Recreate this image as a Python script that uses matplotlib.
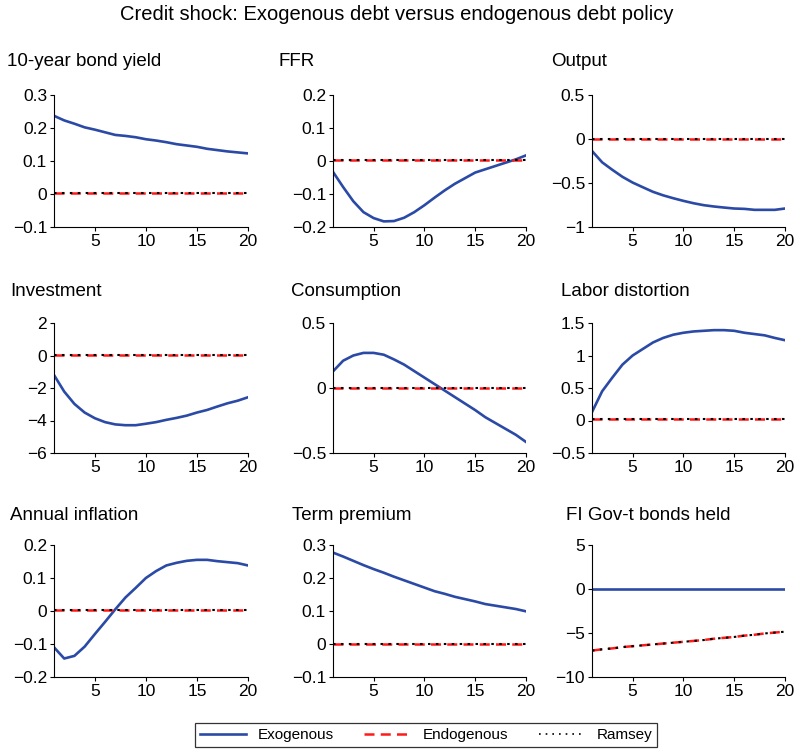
import numpy as np
import matplotlib
matplotlib.use("Agg")
import matplotlib.pyplot as plt
from matplotlib.lines import Line2D

plt.rcParams['font.family'] = ['Liberation Sans', 'DejaVu Sans']

periods = np.arange(1, 21)

# exogenous debt responses
bond_yield = [0.237, 0.223, 0.213, 0.202, 0.195, 0.187, 0.179, 0.176, 0.172, 0.166,
              0.162, 0.157, 0.151, 0.147, 0.143, 0.137, 0.133, 0.129, 0.126, 0.123]
ffr = [-0.033, -0.079, -0.122, -0.155, -0.173, -0.183, -0.182, -0.172, -0.155, -0.134,
       -0.111, -0.089, -0.069, -0.052, -0.035, -0.025, -0.015, -0.005, 0.005, 0.017]
output = [-0.136, -0.265, -0.35, -0.43, -0.495, -0.548, -0.6, -0.64, -0.673, -0.703,
          -0.73, -0.752, -0.767, -0.779, -0.79, -0.794, -0.805, -0.805, -0.805, -0.79]
investment = [-1.2, -2.22, -2.98, -3.51, -3.86, -4.1, -4.24, -4.29, -4.29, -4.2,
              -4.1, -3.96, -3.84, -3.7, -3.51, -3.35, -3.14, -2.94, -2.78, -2.57]
consumption = [0.128, 0.21, 0.25, 0.27, 0.27, 0.256, 0.22, 0.18, 0.13, 0.08,
               0.03, -0.02, -0.07, -0.12, -0.17, -0.225, -0.27, -0.315, -0.36, -0.415]
labor_dist = [0.13, 0.45, 0.66, 0.86, 1.0, 1.1, 1.2, 1.27, 1.32, 1.35,
              1.37, 1.38, 1.39, 1.39, 1.38, 1.35, 1.33, 1.31, 1.27, 1.235]
inflation = [-0.11, -0.144, -0.136, -0.108, -0.07, -0.033, 0.005, 0.041, 0.07, 0.10,
             0.121, 0.138, 0.146, 0.152, 0.155, 0.155, 0.151, 0.148, 0.145, 0.138]
term_premium = [0.277, 0.265, 0.252, 0.239, 0.227, 0.216, 0.204, 0.193, 0.182, 0.171,
                0.16, 0.152, 0.143, 0.136, 0.129, 0.121, 0.116, 0.111, 0.106, 0.099]
fi_bonds = [0.0] * 20

# endogenous / Ramsey (nearly identical)
endo_levels = [0.003, 0.003, 0.0, 0.05, 0.0, 0.02, 0.003, 0.0]
fi_bonds_endo = [-7.0, -6.85, -6.75, -6.6, -6.5, -6.4, -6.3, -6.2, -6.1, -6.0,
                 -5.9, -5.8, -5.65, -5.55, -5.45, -5.3, -5.2, -5.05, -4.95, -4.85]

titles = ['10-year bond yield', 'FFR', 'Output',
          'Investment', 'Consumption', 'Labor distortion',
          'Annual inflation', 'Term premium', 'FI Gov-t bonds held']
exo = [bond_yield, ffr, output, investment, consumption, labor_dist,
       inflation, term_premium, fi_bonds]
endo = [[v] * 20 for v in endo_levels] + [fi_bonds_endo]
ylims = [(-0.1, 0.3), (-0.2, 0.2), (-1, 0.5), (-6, 2), (-0.5, 0.5),
         (-0.5, 1.5), (-0.2, 0.2), (-0.1, 0.3), (-10, 5)]
yticks = [[-0.1, 0, 0.1, 0.2, 0.3], [-0.2, -0.1, 0, 0.1, 0.2], [-1, -0.5, 0, 0.5],
          [-6, -4, -2, 0, 2], [-0.5, 0, 0.5], [-0.5, 0, 0.5, 1, 1.5],
          [-0.2, -0.1, 0, 0.1, 0.2], [-0.1, 0, 0.1, 0.2, 0.3], [-10, -5, 0, 5]]

W, H = 794, 752
fig = plt.figure(figsize=(W / 100, H / 100), dpi=100)

col_left = [54, 333, 592]
col_w = [194, 193, 193]
row_top = [95, 323, 545]
row_h = [132, 130, 132]
title_x = [[7, 279, 551], [10, 291, 561], [10, 292, 566]]
title_y = [62, 292, 515]

blue = '#2b4aa6'
red = '#ff1a1a'


def fmt(v):
    if v == 0:
        return '0'
    return ('%g' % v).replace('-', '\u2212')


for i in range(9):
    r, c = divmod(i, 3)
    ax = fig.add_axes([col_left[c] / W, 1 - (row_top[r] + row_h[r]) / H,
                       col_w[c] / W, row_h[r] / H])
    ax.plot(periods, exo[i], color=blue, lw=1.9)
    ax.plot(periods, endo[i], color=red, lw=1.8, ls=(0, (4, 2.5)))
    ax.plot(periods, endo[i], color='black', lw=1.5, ls=(0, (1.2, 2.6)))
    ax.set_xlim(1, 20)
    ax.set_ylim(*ylims[i])
    ax.set_xticks([5, 10, 15, 20])
    ax.set_yticks(yticks[i])
    ax.set_yticklabels([fmt(v) for v in yticks[i]])
    ax.spines['top'].set_visible(False)
    ax.spines['right'].set_visible(False)
    ax.tick_params(direction='out', length=3, labelsize=12.5, pad=2)
    fig.text(title_x[r][c] / W, 1 - title_y[r] / H, titles[i],
             fontsize=13.5, ha='left', va='center')

fig.text(0.5, 1 - 15 / H, 'Credit shock: Exogenous debt versus endogenous debt policy',
         fontsize=14.5, ha='center', va='center')

handles = [Line2D([], [], color=blue, lw=1.9),
           Line2D([], [], color=red, lw=1.8, ls=(0, (4, 2.5))),
           Line2D([], [], color='black', lw=1.2, ls=(0, (1, 3)))]
leg = fig.legend(handles, ['Exogenous', 'Endogenous', 'Ramsey'],
                 loc='center', bbox_to_anchor=(426 / W, 1 - 735 / H), ncol=3,
                 fontsize=11, frameon=True, fancybox=False, handlelength=3,
                 columnspacing=2.0, borderpad=0.3)
leg.get_frame().set_edgecolor('black')
leg.get_frame().set_linewidth(0.9)

fig.savefig('out.png', dpi=100)
